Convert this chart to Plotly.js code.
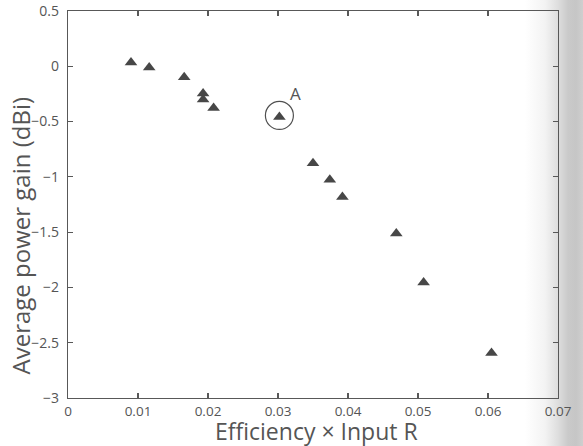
<!DOCTYPE html>
<html>
<head>
<meta charset="utf-8">
<script src="https://cdn.plot.ly/plotly-3.0.1.min.js"></script>
<style>
  html, body { margin: 0; padding: 0; background: #fff; }
  #chart {
    width: 583px; height: 446px;
    background: linear-gradient(to right, #ffffff 0px, #ffffff 525px, #f3f3f3 545px, #dedede 558px, #cacaca 568px, #c6c6c6 576px, #cfcfcf 583px);
  }
</style>
</head>
<body>
<div id="chart"></div>
<script>
// Data
const efficiencyTimesR = [0.0090, 0.0116, 0.0166, 0.0193, 0.0193, 0.0208, 0.0302, 0.0350, 0.0374, 0.0392, 0.0469, 0.0508, 0.0605];
const avgPowerGain     = [0.035, -0.010, -0.100, -0.245, -0.300, -0.378, -0.458, -0.877, -1.027, -1.183, -1.513, -1.955, -2.592];
const highlightIndex = 6;           // point labelled "A"
const highlightLabel = 'A';
const xTitle = 'Efficiency \u00d7 Input R';
const yTitle = 'Average power gain (dBi)';
const xTickVals = [0, 0.01, 0.02, 0.03, 0.04, 0.05, 0.06, 0.07];
const xTickText = ['0', '0.01', '0.02', '0.03', '0.04', '0.05', '0.06', '0.07'];
const yTickVals = [0.5, 0, -0.5, -1, -1.5, -2, -2.5, -3];
const yTickText = ['0.5', '0', '\u22120.5', '\u22121', '\u22121.5', '\u22122', '\u22122.5', '\u22123'];

const axisColor = '#585858';
const textColor = '#555555';
const fontFamily = 'Open Sans, Noto Sans, Arial, sans-serif';

const trace = {
  x: efficiencyTimesR,
  y: avgPowerGain,
  type: 'scatter',
  mode: 'markers',
  marker: { symbol: 'triangle-up', size: 11, color: '#474747', line: { width: 0 } },
  hoverinfo: 'skip',
  showlegend: false
};

const xA = efficiencyTimesR[highlightIndex];
const yA = avgPowerGain[highlightIndex];

const commonAxis = {
  showgrid: false,
  zeroline: false,
  showline: true,
  linecolor: axisColor,
  linewidth: 1.3,
  mirror: 'ticks',
  ticks: 'inside',
  ticklen: 5,
  tickwidth: 1.2,
  tickcolor: axisColor,
  tickfont: { family: fontFamily, size: 14, color: textColor },
  tickmode: 'array'
};

const layout = {
  width: 583,
  height: 446,
  margin: { l: 68, r: 25, t: 11, b: 48, pad: 0 },
  paper_bgcolor: 'rgba(0,0,0,0)',
  plot_bgcolor: 'rgba(0,0,0,0)',
  font: { family: fontFamily, color: textColor },
  xaxis: Object.assign({}, commonAxis, {
    range: [0, 0.07],
    tickvals: xTickVals,
    ticktext: xTickText,
    ticklabelstandoff: 0,
    tickfont: { family: fontFamily, size: 13.5, color: textColor }
  }),
  yaxis: Object.assign({}, commonAxis, {
    range: [-3, 0.5],
    tickvals: yTickVals,
    ticktext: yTickText,
    ticklabelstandoff: 5
  }),
  shapes: [{
    type: 'circle',
    xref: 'x', yref: 'y',
    xsizemode: 'pixel', ysizemode: 'pixel',
    xanchor: xA, yanchor: yA,
    x0: -14, x1: 14, y0: -12.5, y1: 15.5,
    line: { color: '#505050', width: 1.2 }
  }],
  annotations: [
    {
      x: xA, y: yA, xref: 'x', yref: 'y',
      text: highlightLabel,
      showarrow: false,
      xshift: 16, yshift: 23,
      font: { family: fontFamily, size: 17, color: textColor }
    },
    {
      x: 0.507, y: 0, xref: 'paper', yref: 'paper',
      xanchor: 'center', yanchor: 'top',
      yshift: -15,
      text: xTitle,
      showarrow: false,
      font: { family: fontFamily, size: 23, color: textColor }
    },
    {
      x: 0, y: 0.42, xref: 'paper', yref: 'paper',
      xanchor: 'center', yanchor: 'middle',
      xshift: -48,
      textangle: -90,
      text: yTitle,
      showarrow: false,
      font: { family: fontFamily, size: 24, color: textColor }
    }
  ]
};

Plotly.newPlot('chart', [trace], layout, { displayModeBar: false, staticPlot: true });
</script>
</body>
</html>
